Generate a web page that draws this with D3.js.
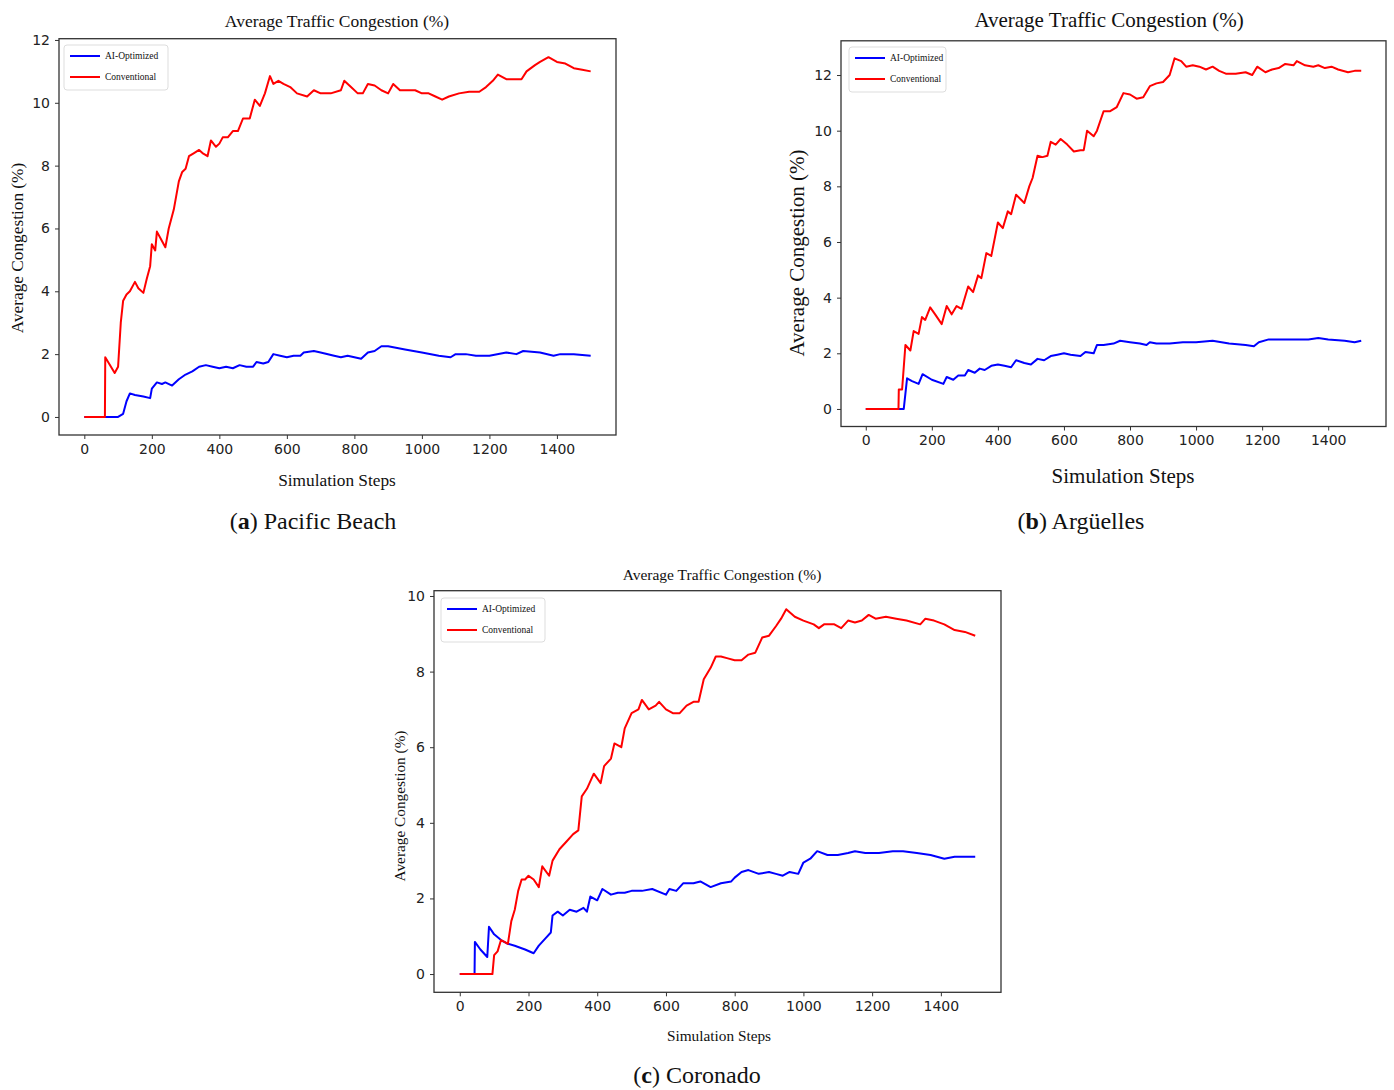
<!DOCTYPE html>
<html>
<head>
<meta charset="utf-8">
<script src="https://cdn.jsdelivr.net/npm/d3@7"></script>
<style>
  body { margin: 0; background: #fff; }
  .tick text { font-family: "DejaVu Sans", sans-serif; fill: #222; }
  .tick line { stroke: #333; }
  .serif { font-family: "Liberation Serif", "Times New Roman", serif; fill: #111; }
</style>
</head>
<body>
<script>
// steps / congestion (%), as [step, value]
var pacificAI = [[0,0],[100,0],[115,0.1],[125,0.5],[135,0.75],[150,0.7],[175,0.65],[195,0.6],[200,0.9],[215,1.1],[230,1.05],[240,1.1],[260,1.0],[280,1.2],[300,1.35],[320,1.45],[340,1.6],[360,1.65],[380,1.6],[400,1.55],[420,1.6],[440,1.55],[460,1.65],[480,1.6],[500,1.6],[510,1.75],[530,1.7],[545,1.75],[560,2.0],[580,1.95],[600,1.9],[620,1.95],[640,1.95],[650,2.05],[680,2.1],[700,2.05],[740,1.95],[760,1.9],[780,1.95],[800,1.9],[820,1.85],[840,2.05],[860,2.1],[880,2.25],[900,2.25],[950,2.15],[1000,2.05],[1050,1.95],[1085,1.9],[1100,2.0],[1130,2.0],[1160,1.95],[1200,1.95],[1250,2.05],[1280,2.0],[1300,2.1],[1350,2.05],[1390,1.95],[1410,2.0],[1450,2.0],[1500,1.95]];
var pacificConv = [[0,0],[61,0],[62,1.9],[90,1.4],[100,1.6],[108,3.0],[115,3.7],[125,3.9],[135,4.0],[150,4.3],[160,4.1],[175,3.95],[185,4.4],[195,4.8],[200,5.5],[210,5.3],[215,5.9],[230,5.6],[240,5.4],[250,6.0],[265,6.6],[280,7.5],[290,7.8],[300,7.9],[310,8.3],[325,8.4],[340,8.5],[350,8.4],[365,8.3],[375,8.8],[390,8.6],[400,8.7],[410,8.9],[425,8.9],[440,9.1],[455,9.1],[470,9.5],[490,9.5],[505,10.1],[520,9.9],[535,10.3],[550,10.85],[560,10.6],[575,10.7],[590,10.6],[610,10.5],[630,10.3],[660,10.2],[680,10.4],[700,10.3],[730,10.3],[760,10.4],[770,10.7],[790,10.5],[810,10.3],[825,10.3],[840,10.6],[860,10.55],[880,10.4],[900,10.3],[915,10.6],[935,10.4],[955,10.4],[980,10.4],[1000,10.3],[1020,10.3],[1040,10.2],[1060,10.1],[1080,10.2],[1110,10.3],[1140,10.35],[1170,10.35],[1190,10.5],[1210,10.7],[1225,10.9],[1250,10.75],[1275,10.75],[1295,10.75],[1310,11.0],[1335,11.2],[1350,11.3],[1375,11.45],[1400,11.3],[1425,11.25],[1450,11.1],[1475,11.05],[1500,11.0]];

var arguellesAI = [[0,0],[115,0],[125,1.1],[140,1.0],[160,0.9],[172,1.25],[200,1.05],[235,0.9],[245,1.15],[265,1.05],[280,1.2],[300,1.2],[310,1.4],[330,1.3],[345,1.45],[360,1.4],[380,1.55],[400,1.6],[420,1.55],[440,1.5],[455,1.75],[480,1.65],[500,1.6],[520,1.8],[540,1.75],[560,1.9],[580,1.95],[600,2.0],[620,1.95],[650,1.9],[665,2.05],[690,2.0],[700,2.3],[720,2.3],[750,2.35],[770,2.45],[800,2.4],[830,2.35],[850,2.3],[860,2.4],[880,2.35],[920,2.35],[960,2.4],[1000,2.4],[1050,2.45],[1100,2.35],[1150,2.3],[1175,2.25],[1190,2.4],[1220,2.5],[1260,2.5],[1300,2.5],[1340,2.5],[1370,2.55],[1400,2.5],[1450,2.45],[1480,2.4],[1500,2.45]];
var arguellesConv = [[0,0],[99,0],[100,0.7],[110,0.7],[120,2.3],[135,2.1],[145,2.8],[160,2.7],[170,3.3],[180,3.2],[195,3.65],[210,3.4],[230,3.05],[245,3.7],[260,3.4],[275,3.7],[290,3.6],[310,4.4],[325,4.2],[340,4.8],[350,4.7],[365,5.6],[380,5.5],[400,6.7],[415,6.5],[430,7.1],[440,7.0],[455,7.7],[480,7.4],[495,8.0],[505,8.3],[520,9.1],[535,9.05],[550,9.1],[560,9.6],[575,9.5],[590,9.7],[610,9.5],[630,9.25],[650,9.3],[660,9.3],[670,10.0],[690,9.8],[700,10.0],[720,10.7],[740,10.7],[760,10.85],[780,11.35],[800,11.3],[820,11.15],[840,11.2],[860,11.6],[880,11.7],[900,11.75],[920,12.0],[935,12.6],[955,12.5],[970,12.3],[990,12.35],[1010,12.3],[1030,12.2],[1050,12.3],[1070,12.15],[1090,12.05],[1120,12.05],[1150,12.1],[1170,12.0],[1185,12.3],[1210,12.1],[1230,12.2],[1250,12.25],[1270,12.4],[1295,12.35],[1305,12.5],[1330,12.35],[1355,12.3],[1370,12.35],[1390,12.25],[1410,12.3],[1430,12.2],[1460,12.1],[1480,12.15],[1500,12.15]];

var coronadoAI = [[0,0],[43,0],[44,0.85],[60,0.65],[80,0.45],[85,1.25],[100,1.05],[120,0.9],[140,0.8],[160,0.75],[190,0.65],[215,0.55],[230,0.75],[250,0.95],[265,1.1],[270,1.55],[285,1.65],[300,1.55],[320,1.7],[340,1.65],[360,1.75],[370,1.65],[380,2.05],[400,1.95],[415,2.25],[440,2.1],[460,2.15],[480,2.15],[500,2.2],[530,2.2],[560,2.25],[600,2.1],[610,2.25],[630,2.2],[650,2.4],[680,2.4],[700,2.45],[730,2.3],[760,2.4],[790,2.45],[800,2.55],[820,2.7],[840,2.75],[870,2.65],[900,2.7],[920,2.65],[940,2.6],[960,2.7],[985,2.65],[1000,2.95],[1020,3.05],[1040,3.25],[1070,3.15],[1100,3.15],[1130,3.2],[1150,3.25],[1180,3.2],[1220,3.2],[1260,3.25],[1290,3.25],[1330,3.2],[1370,3.15],[1410,3.05],[1440,3.1],[1470,3.1],[1500,3.1]];
var coronadoConv = [[0,0],[95,0],[100,0.5],[110,0.6],[120,0.9],[130,0.85],[140,0.8],[150,1.4],[160,1.7],[170,2.2],[180,2.5],[190,2.5],[200,2.6],[215,2.5],[230,2.3],[240,2.85],[260,2.6],[270,3.0],[290,3.3],[310,3.5],[330,3.7],[345,3.8],[355,4.7],[370,4.9],[390,5.3],[410,5.05],[420,5.5],[440,5.7],[450,6.1],[470,6.0],[480,6.5],[500,6.9],[520,7.0],[530,7.25],[550,7.0],[570,7.1],[580,7.2],[600,7.0],[620,6.9],[640,6.9],[660,7.1],[680,7.2],[695,7.2],[710,7.8],[730,8.1],[745,8.4],[760,8.4],[780,8.35],[800,8.3],[820,8.3],[840,8.45],[860,8.5],[880,8.9],[900,8.95],[920,9.2],[935,9.4],[950,9.65],[975,9.45],[1000,9.35],[1030,9.25],[1045,9.15],[1060,9.25],[1090,9.25],[1110,9.15],[1130,9.35],[1150,9.3],[1170,9.35],[1190,9.5],[1210,9.4],[1240,9.45],[1270,9.4],[1300,9.35],[1340,9.25],[1355,9.4],[1380,9.35],[1410,9.25],[1440,9.1],[1470,9.05],[1500,8.95]];

var xTicks = [0, 200, 400, 600, 800, 1000, 1200, 1400];
var yTicksA = [0, 2, 4, 6, 8, 10, 12];
var yTicksB = [0, 2, 4, 6, 8, 10, 12];
var yTicksC = [0, 2, 4, 6, 8, 10];
var seriesNames = ["AI-Optimized", "Conventional"];
var seriesColors = ["#0000ff", "#ff0000"];

var svg = d3.select("body").append("svg")
            .attr("width", 1394)
            .attr("height", 1090);

// one panel per city
var panels = [
  {ai: pacificAI, conv: pacificConv, yTicks: yTicksA, yMax: 12.04, yMin: -0.574,
   left: 59, right: 616, top: 38.7, bottom: 435,
   titleSize: 17.5, titleX: 337, titleY: 27, labelSize: 17.3, xLabelX: 337, xLabelY: 486,
   yLabelX: 23, yLabelY: 248,
   letter: "a", city: "Pacific Beach", capX: 313, capY: 529,
   legX: 64, legY: 45, legW: 104, legH: 45},
  {ai: arguellesAI, conv: arguellesConv, yTicks: yTicksB, yMax: 13.23, yMin: -0.63,
   left: 841, right: 1386, top: 40.8, bottom: 426.5,
   titleSize: 21, titleX: 1109, titleY: 27, labelSize: 21, xLabelX: 1123, xLabelY: 483,
   yLabelX: 804, yLabelY: 253,
   letter: "b", city: "Argüelles", capX: 1081, capY: 529,
   legX: 849, legY: 47, legW: 97, legH: 45},
  {ai: coronadoAI, conv: coronadoConv, yTicks: yTicksC, yMax: 10.14, yMin: -0.483,
   left: 434, right: 1001, top: 590.7, bottom: 992.3,
   titleSize: 15.5, titleX: 722, titleY: 580, labelSize: 15.3, xLabelX: 719, xLabelY: 1041,
   yLabelX: 405, yLabelY: 806,
   letter: "c", city: "Coronado", capX: 697, capY: 1083,
   legX: 441, legY: 598, legW: 104, legH: 44}
];

panels.forEach(function(p) {
  var x = d3.scaleLinear().domain([-75, 1575]).range([p.left, p.right]);
  var y = d3.scaleLinear().domain([p.yMin, p.yMax]).range([p.bottom, p.top]);
  var g = svg.append("g");

  var xAxis = d3.axisBottom(x).tickValues(xTicks).tickFormat(d3.format("d")).tickSize(4).tickPadding(5);
  var yAxis = d3.axisLeft(y).tickValues(p.yTicks).tickFormat(d3.format("d")).tickSize(4).tickPadding(5);

  g.append("g")
   .attr("transform", "translate(0," + p.bottom + ")")
   .call(xAxis)
   .call(function(a) { a.select(".domain").remove(); })
   .selectAll("text").style("font-size", "14px");

  g.append("g")
   .attr("transform", "translate(" + p.left + ",0)")
   .call(yAxis)
   .call(function(a) { a.select(".domain").remove(); })
   .selectAll("text").style("font-size", "14px");

  var line = d3.line()
               .x(function(d) { return x(d[0]); })
               .y(function(d) { return y(d[1]); });

  [p.ai, p.conv].forEach(function(s, i) {
    g.append("path")
     .datum(s)
     .attr("d", line)
     .attr("fill", "none")
     .attr("stroke", seriesColors[i])
     .attr("stroke-width", 2)
     .attr("stroke-linejoin", "round");
  });

  // frame
  g.append("rect")
   .attr("x", p.left).attr("y", p.top)
   .attr("width", p.right - p.left).attr("height", p.bottom - p.top)
   .attr("fill", "none").attr("stroke", "#333").attr("stroke-width", 1.3);

  // legend
  g.append("rect")
   .attr("x", p.legX).attr("y", p.legY)
   .attr("width", p.legW).attr("height", p.legH)
   .attr("rx", 3)
   .attr("fill", "#fff").attr("stroke", "#ddd").attr("stroke-width", 1);

  seriesNames.forEach(function(name, i) {
    var ly = p.legY + 11 + i * 21;
    g.append("line")
     .attr("x1", p.legX + 6).attr("x2", p.legX + 36)
     .attr("y1", ly).attr("y2", ly)
     .attr("stroke", seriesColors[i]).attr("stroke-width", 2);
    g.append("text")
     .attr("class", "serif")
     .attr("x", p.legX + 41).attr("y", ly + 3)
     .style("font-size", "9.5px")
     .text(name);
  });

  // title and axis labels
  g.append("text")
   .attr("class", "serif")
   .attr("x", p.titleX).attr("y", p.titleY)
   .attr("text-anchor", "middle")
   .style("font-size", p.titleSize + "px")
   .text("Average Traffic Congestion (%)");

  g.append("text")
   .attr("class", "serif")
   .attr("x", p.xLabelX).attr("y", p.xLabelY)
   .attr("text-anchor", "middle")
   .style("font-size", p.labelSize + "px")
   .text("Simulation Steps");

  g.append("text")
   .attr("class", "serif")
   .attr("transform", "translate(" + p.yLabelX + "," + p.yLabelY + ") rotate(-90)")
   .attr("text-anchor", "middle")
   .style("font-size", p.labelSize + "px")
   .text("Average Congestion (%)");

  // caption under the panel
  var cap = svg.append("text")
               .attr("class", "serif")
               .attr("x", p.capX).attr("y", p.capY)
               .attr("text-anchor", "middle")
               .style("font-size", "24px");
  cap.append("tspan").text("(");
  cap.append("tspan").style("font-weight", "bold").text(p.letter);
  cap.append("tspan").text(") " + p.city);
});
</script>
</body>
</html>
